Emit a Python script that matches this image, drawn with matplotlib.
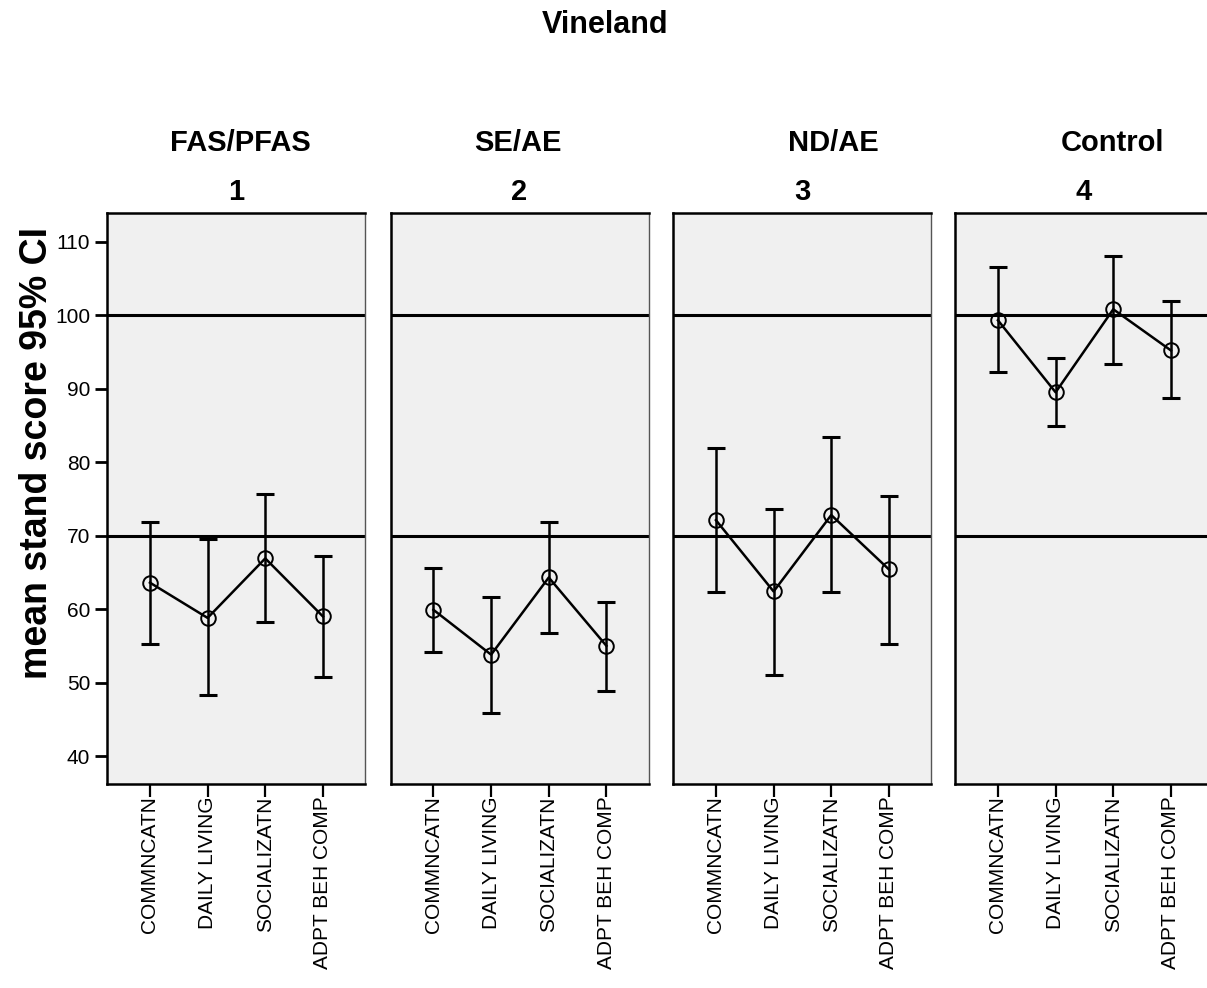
import matplotlib
matplotlib.use("Agg")
import matplotlib.pyplot as plt

plt.rcParams['font.family'] = ['Liberation Sans', 'DejaVu Sans']

# ---- data ----
categories = ["COMMNCATN", "DAILY LIVING", "SOCIALIZATN", "ADPT BEH COMP"]
groups = ["FAS/PFAS", "SE/AE", "ND/AE", "Control"]
group_numbers = ["1", "2", "3", "4"]

means_fas = [63.6, 58.8, 66.9, 59.0]
lower_fas = [55.3, 48.3, 58.3, 50.7]
upper_fas = [71.9, 69.5, 75.6, 67.2]

means_se = [59.9, 53.8, 64.3, 55.0]
lower_se = [54.1, 45.9, 56.7, 48.9]
upper_se = [65.6, 61.7, 71.8, 61.0]

means_nd = [72.1, 62.4, 72.8, 65.4]
lower_nd = [62.3, 51.1, 62.3, 55.2]
upper_nd = [81.9, 73.6, 83.4, 75.4]

means_ctrl = [99.3, 89.5, 100.8, 95.2]
lower_ctrl = [92.2, 84.9, 93.4, 88.7]
upper_ctrl = [106.5, 94.2, 108.0, 101.9]

reference_lines = [70, 100]
y_ticks = [40, 50, 60, 70, 80, 90, 100, 110]

all_means = [means_fas, means_se, means_nd, means_ctrl]
all_lower = [lower_fas, lower_se, lower_nd, lower_ctrl]
all_upper = [upper_fas, upper_se, upper_nd, upper_ctrl]

# ---- layout ----
W, H = 1207, 988
fig = plt.figure(figsize=(W / 100, H / 100), dpi=100)

panel_left_px = [107, 390.5, 673, 955]
panel_w_px = 258
top_px, bottom_px = 213, 784
group_label_x_px = [240, 518, 833, 1113]

x = [1, 2, 3, 4]
for i in range(4):
    ax = fig.add_axes([panel_left_px[i] / W, 1 - bottom_px / H,
                       panel_w_px / W, (bottom_px - top_px) / H])
    ax.set_facecolor('#f0f0f0')
    for r in reference_lines:
        ax.axhline(r, color='black', lw=2.2, zorder=1)
    m = all_means[i]
    lo = [m[j] - all_lower[i][j] for j in range(4)]
    hi = [all_upper[i][j] - m[j] for j in range(4)]
    ax.errorbar(x, m, yerr=[lo, hi], fmt='none', ecolor='black',
                elinewidth=1.8, capsize=6.5, capthick=2.2, zorder=2)
    ax.plot(x, m, color='black', lw=1.8, zorder=3)
    ax.plot(x, m, linestyle='none', marker='o', markersize=10.5,
            markerfacecolor='none', markeredgecolor='black',
            markeredgewidth=1.4, zorder=4)
    ax.set_xlim(0.255, 4.73)
    ax.set_ylim(36.2, 113.9)
    ax.set_xticks(x)
    ax.set_xticklabels(categories, rotation=90, fontsize=15, va='top')
    ax.tick_params(axis='x', length=9, width=1.6, pad=0, color='black')
    for s in ['left', 'top', 'bottom']:
        ax.spines[s].set_color('black')
        ax.spines[s].set_linewidth(1.8)
    ax.spines['right'].set_color('#555555')
    ax.spines['right'].set_linewidth(1.0)
    if i == 0:
        ax.set_yticks(y_ticks)
        ax.set_yticklabels([str(t) for t in y_ticks], fontsize=15)
        ax.tick_params(axis='y', length=9, width=2, pad=3)
    else:
        ax.set_yticks([])
    cx = (panel_left_px[i] + panel_w_px / 2) / W
    fig.text(cx, 1 - 192 / H, group_numbers[i], ha='center', va='center',
             fontsize=21, fontweight='bold')
    fig.text(group_label_x_px[i] / W, 1 - 143 / H, groups[i], ha='center',
             va='center', fontsize=21, fontweight='bold')

fig.text(37 / W, 1 - 453 / H, "mean stand score 95% CI", rotation=90,
         ha='center', va='center', fontsize=27, fontweight='bold')
fig.text(605 / W, 1 - 25 / H, "Vineland", ha='center', va='center',
         fontsize=22, fontweight='bold')

fig.savefig("out.png", dpi=100)
